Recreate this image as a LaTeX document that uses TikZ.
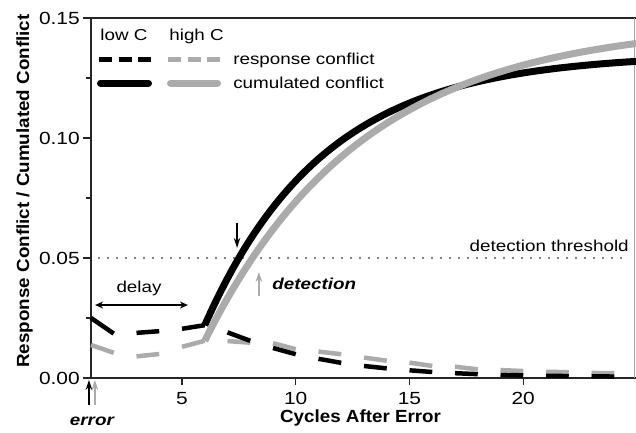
\documentclass[tikz,border=0pt]{standalone}
\usepackage{fontspec}
\setmainfont{Liberation Sans}[FakeStretch=1.19]
\newfontfamily\titlefont{Liberation Sans}[FakeStretch=1.07]
\usetikzlibrary{arrows.meta}
\definecolor{highc}{gray}{0.67}

\begin{document}
\begin{tikzpicture}[x=0.455cm, y=0.48cm,
    axisline/.style={line width=0.7pt, black!85},
    ticklabel/.style={font=\fontsize{10}{12}\selectfont, inner sep=0pt},
    plain/.style={font=\fontsize{9}{11}\selectfont, inner sep=0pt},
    axistitle/.style={font=\titlefont\bfseries\fontsize{10}{12}\selectfont, inner sep=0pt},
    event/.style={font=\bfseries\itshape\fontsize{9}{11}\selectfont, inner sep=0pt},
    resp/.style={line width=0.09cm},
    cumul/.style={line width=0.14cm, line join=round},
    pointer/.style={line width=0.8pt, -{Stealth[length=0.2cm, width=0.13cm]}}]
    \useasboundingbox (-3,-2.292) rectangle (24.956,15.75);

    % Frame and axes
    \draw[axisline] (1,15) -- (1,0) -- (25,0);
    \draw[axisline] (1,15) -- (25,15);
    \draw[black!35, line width=0.5pt] (24.87,0) -- (24.87,15);

    % Ticks
    \foreach \y/\lab in {0/0.00, 5/0.05, 10/0.10, 15/0.15} {
        \draw[axisline] (1,\y) -- (0.65,\y);
        \node[ticklabel, anchor=east] (ylab\y) at (0.52,\y) {\lab};
    }
    \foreach \y in {2.5, 7.5, 12.5}
        \draw[axisline] (1,\y) -- (0.78,\y);
    \foreach \x in {5,10,15,20} {
        \draw[axisline] (\x,0) -- (\x,-0.3);
        \node[ticklabel] (xlab\x) at (\x,-0.87) {\x};
    }

    % Axis titles
    \node[axistitle, anchor=base] (xtitle) at (12.85,-1.875) {Cycles After Error};
    \node[axistitle, rotate=90, anchor=base] (ytitle) at (-1.725,7.79) {Response Conflict / Cumulated Conflict};

    % Threshold
    \coordinate (thrL) at (1.35,5);
    \coordinate (thrR) at (24.65,5);
    \draw[line width=0.035cm, line cap=round, dash pattern=on 0pt off 0.18cm] (thrL) -- (thrR);
    \node[plain, anchor=base east] (thrlab) at (24.65,5.29) {detection threshold};

    % Response conflict, one dash per odd cycle
    \foreach \xa/\ya/\xb/\yb in {1/1.375/2/1.05, 3/0.9/4/1.0, 5/1.3/6/1.55, 7/1.54/8/1.47,
        9/1.45/10/1.2, 11/1.1/12/0.99, 13/0.85/14/0.72, 15/0.64/16/0.5, 17/0.47/18/0.36,
        19/0.33/20/0.29, 21/0.26/22/0.24, 23/0.21/24/0.2}
        \draw[resp, highc] (\xa,\ya) -- (\xb,\yb);
    \foreach \xa/\ya/\xb/\yb in {1/2.5/2/1.85, 3/1.88/4/1.95, 5/2.05/6/2.2, 7/1.9/8/1.55,
        9/1.25/10/0.99, 11/0.8/12/0.63, 13/0.5/14/0.4, 15/0.32/16/0.25, 17/0.2/18/0.16,
        19/0.13/20/0.11, 21/0.09/22/0.08, 23/0.07/24/0.06}
        \draw[resp] (\xa,\ya) -- (\xb,\yb);

    % Cumulated conflict
    \draw[cumul] plot[domain=6:25, samples=80] (\x,{13.5-11.3*exp(-0.19*(\x-6))});
    \draw[cumul, highc] plot[domain=6:25, samples=80] (\x,{14.8-13.25*exp(-0.144*(\x-6))});

    % Legend
    \node[plain, anchor=base west] (lowlab) at (1.4,14.08) {low C};
    \node[plain, anchor=base west] (highlab) at (4.43,14.08) {high C};
    \draw[line width=0.1cm, dash pattern=on 0.26cm off 0.13cm] (1.352,13.29) -- (3.637,13.29);
    \draw[line width=0.1cm, highc, dash pattern=on 0.26cm off 0.13cm] (4.385,13.29) -- (6.67,13.29);
    \node[plain, anchor=base west] (resplab) at (7.24,13.08) {response conflict};
    \draw[line width=0.14cm, line cap=round] (1.418,12.29) -- (3.527,12.29);
    \draw[line width=0.14cm, line cap=round, highc] (4.495,12.29) -- (6.56,12.29);
    \node[plain, anchor=base west] (cumlab) at (7.24,12.08) {cumulated conflict};

    % Delay
    \coordinate (delayL) at (1.18,3.04);
    \coordinate (delayR) at (5.26,3.04);
    \draw[line width=0.8pt, {Stealth[length=0.16cm, width=0.14cm]}-{Stealth[length=0.16cm, width=0.14cm]}] (delayL) -- (delayR);
    \node[plain, anchor=base] (delaylab) at (3.11,3.58) {delay};

    % Detection
    \coordinate (lowtop) at (7.42,6.46);
    \coordinate (lowhit) at (7.42,5.42);
    \draw[pointer] (lowtop) -- (lowhit);
    \coordinate (highbot) at (8.38,3.4);
    \coordinate (highhit) at (8.38,4.42);
    \draw[pointer, highc] (highbot) -- (highhit);
    \node[event, anchor=base west] (detlab) at (8.96,3.67) {detection};

    % Error
    \coordinate (errlowbot) at (0.91,-1.125);
    \coordinate (errlowtip) at (0.91,-0.08);
    \coordinate (errhighbot) at (1.17,-1.125);
    \coordinate (errhightip) at (1.17,-0.08);
    \draw[pointer, highc] (errhighbot) -- (errhightip);
    \draw[pointer] (errlowbot) -- (errlowtip);
    \node[event, anchor=base] (errlab) at (1.04,-1.96) {error};
\end{tikzpicture}
\end{document}
